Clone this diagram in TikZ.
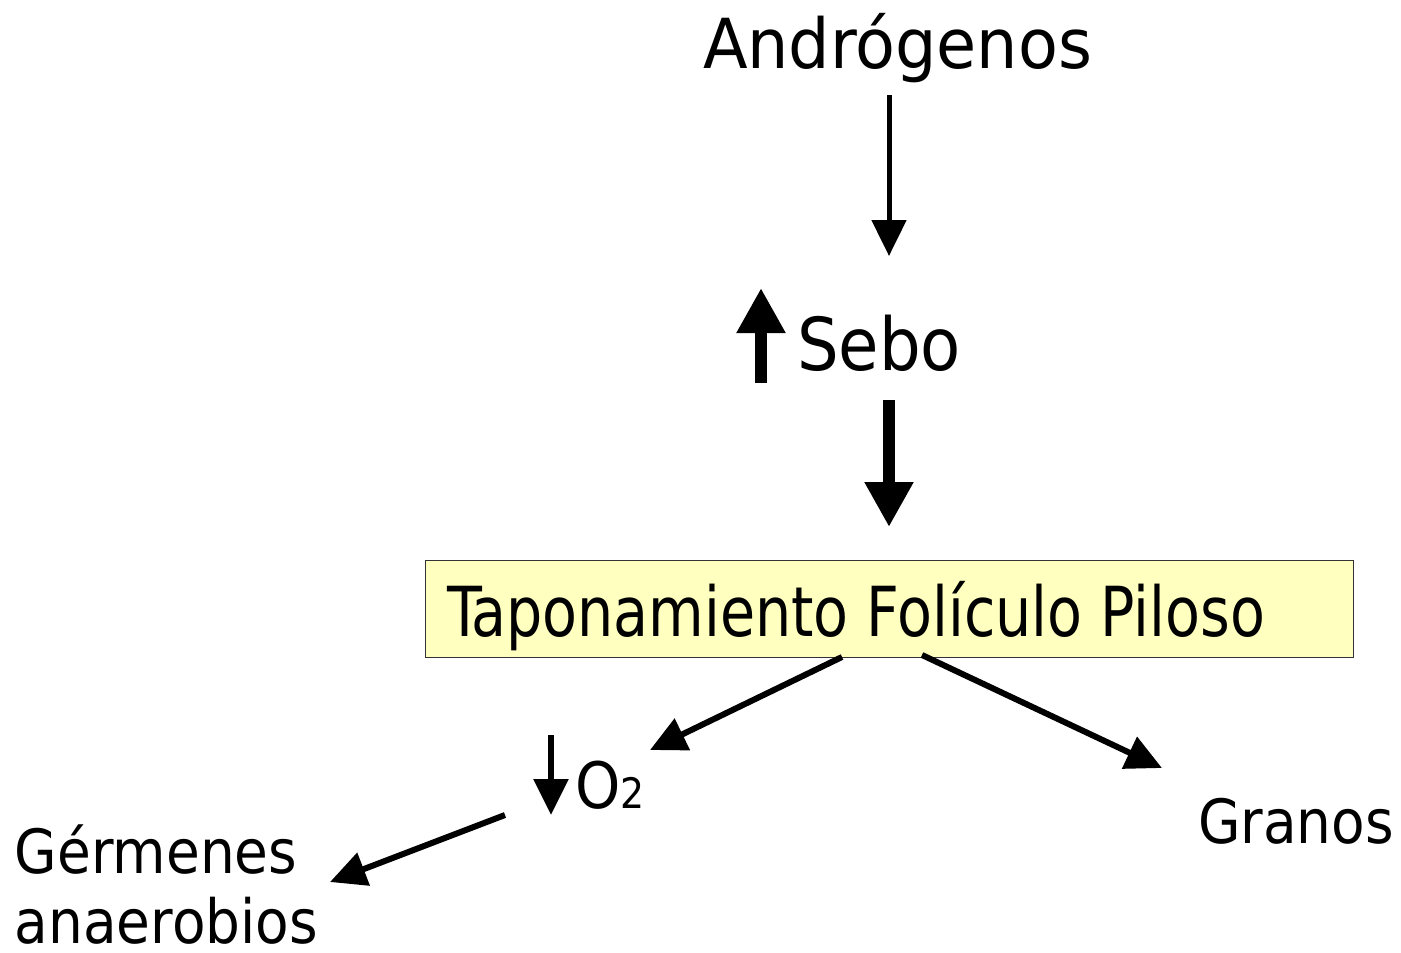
\documentclass[tikz,border=0pt]{standalone}
\usepackage{fontspec}
\setmainfont{DejaVu Sans Condensed}
\usetikzlibrary{arrows.meta}
\begin{document}
\begin{tikzpicture}[x=1pt,y=-1pt,
  lbl/.style={anchor=base west,inner sep=0pt,outer sep=0pt},
  thin arrow/.style={line width=5pt,-{Triangle[length=36pt,width=34pt]}},
  thick arrow/.style={line width=12pt,-{Triangle[length=45pt,width=46pt]}},
  diag arrow/.style={line width=6pt,-{Triangle[length=36pt,width=34pt]}}]
\useasboundingbox (0,0) rectangle (1401,953);
% box
\node[draw=black!80,line width=1pt,fill={rgb,255:red,255;green,255;blue,192},minimum width=928pt,minimum height=97pt,anchor=north west,inner sep=0pt] (box) at (425,560) {};
\node[lbl,font=\fontsize{69}{80}\selectfont,xscale=0.92] (tap) at (447,636) {Taponamiento Folículo Piloso};
% texts
\node[lbl,font=\fontsize{69}{80}\selectfont,xscale=1.05] (andr) at (703,68) {Andrógenos};
\node[lbl,font=\fontsize{73}{84}\selectfont] (sebo) at (797,370) {Sebo};
\node[lbl,font=\fontsize{64}{76}\selectfont] (o2) at (575,808) {O\fontsize{42}{48}\selectfont 2};
\node[lbl,font=\fontsize{61}{72}\selectfont] (gran) at (1198,843) {Granos};
\node[lbl,font=\fontsize{61}{72}\selectfont] (germ1) at (15,873) {Gérmenes};
\node[lbl,font=\fontsize{61}{72}\selectfont] (germ2) at (15,943) {anaerobios};
% arrow ends
\coordinate (a1s) at (889,95);  \coordinate (a1e) at (889,256);
\coordinate (a2s) at (761,383); \coordinate (a2e) at (761,288);
\coordinate (a3s) at (889,400); \coordinate (a3e) at (889,527);
\coordinate (a4s) at (842,657); \coordinate (a4e) at (650,750);
\coordinate (a5s) at (922,655); \coordinate (a5e) at (1162,768);
\coordinate (a6s) at (551,735); \coordinate (a6e) at (551,815);
\coordinate (a7s) at (505,815); \coordinate (a7e) at (330,882);
\draw[thin arrow] (a1s) -- (a1e);
\draw[thick arrow] (a2s) -- (a2e);
\draw[thick arrow] (a3s) -- (a3e);
\draw[diag arrow] (a4s) -- (a4e);
\draw[diag arrow] (a5s) -- (a5e);
\draw[thin arrow,line width=6pt] (a6s) -- (a6e);
\draw[diag arrow] (a7s) -- (a7e);
\end{tikzpicture}
\end{document}
